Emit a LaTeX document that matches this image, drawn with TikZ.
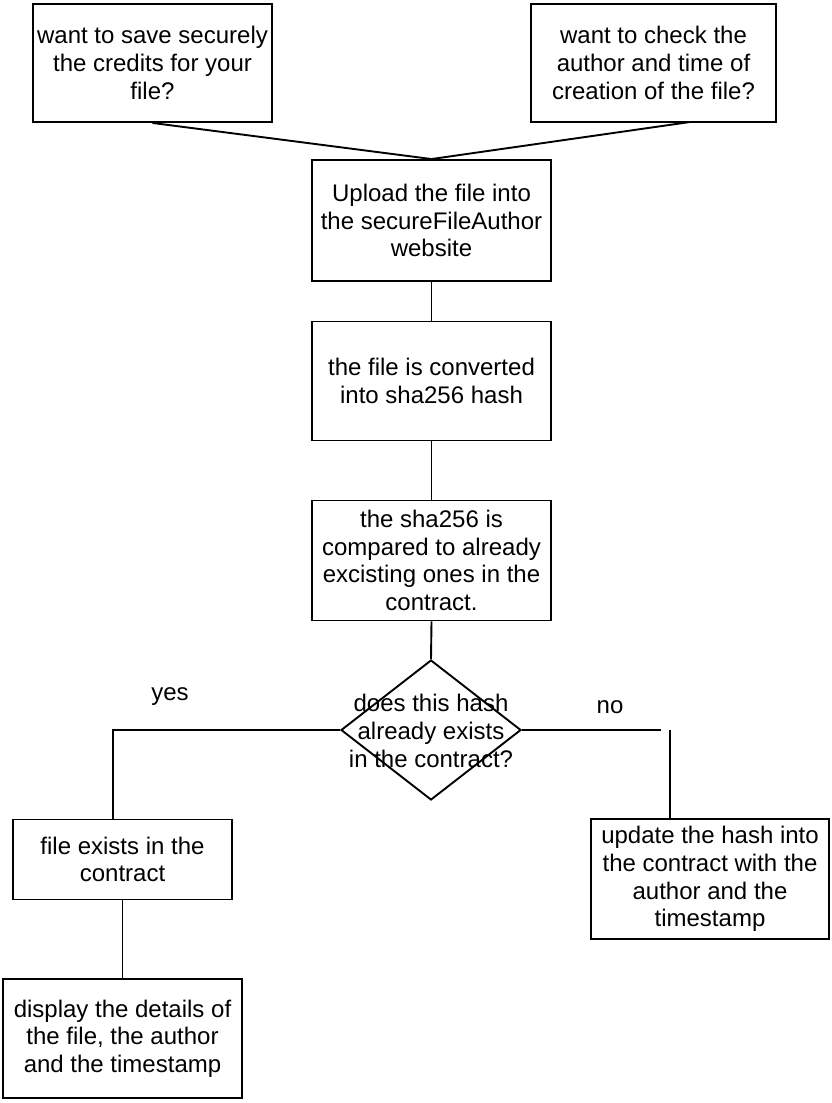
\documentclass[tikz,border=0pt]{standalone}
\usepackage{fontspec}
\setmainfont{Liberation Sans}
\usetikzlibrary{shapes.geometric}
\tikzset{
  txt/.style={font=\fontsize{24}{27.7}\selectfont, align=center, inner sep=0pt},
  box/.style={txt, draw, line width=1.9pt, anchor=center},
  decision/.style={diamond, draw, line width=1.9pt, inner sep=0pt, minimum width=180pt, minimum height=140pt},
  conn/.style={line width=1.9pt},
}
\begin{document}
\begin{tikzpicture}[x=1pt,y=-1pt]
\useasboundingbox (0,0) rectangle (831,1103);
\node[box, minimum width=239pt, minimum height=118pt] (q1) at (152.5,63) {want to save securely\\the credits for your\\file?};
\node[box, minimum width=245pt, minimum height=118pt] (q2) at (653.5,63) {want to check the\\author and time of\\creation of the file?};
\node[box, minimum width=239pt, minimum height=121pt] (up) at (431.5,220.5) {Upload the file into\\the secureFileAuthor\\website};
\node[box, minimum width=239pt, minimum height=119pt] (conv) at (431.5,381) {the file is converted\\into sha256 hash};
\node[box, minimum width=239pt, minimum height=120pt] (cmp) at (431.5,560.5) {the sha256 is\\compared to already\\excisting ones in the\\contract.};
\node[decision] (dec) at (431,730) {};
\node[txt] (dectxt) at (431,731) {does this hash\\already exists\\in the contract?};
\node[box, minimum width=219pt, minimum height=80pt] (ex) at (122.5,859.5) {file exists in the\\contract};
\node[box, minimum width=239pt, minimum height=119pt] (disp) at (122.5,1038.5) {display the details of\\the file, the author\\and the timestamp};
\node[box, minimum width=238pt, minimum height=120pt] (upd) at (710,879) {update the hash into\\the contract with the\\author and the\\timestamp};
\node[txt] (yes) at (170,697) {yes};
\node[txt] (no) at (610,707) {no};
\coordinate (q2b) at (690,122);
\coordinate (yc) at (113,730);
\coordinate (nend) at (661,730);
\coordinate (nv) at (670,730);
\draw[conn] (q1.south) -- (up.north);
\draw[conn] (q2b) -- (up.north);
\draw[conn] (up.south) -- (conv.north);
\draw[conn] (conv.south) -- (cmp.north);
\draw[conn] (cmp.south) -- (dec.north);
\draw[conn] (dec.west) -- (yc) -- (yc |- ex.north);
\draw[conn] (ex.south) -- (disp.north);
\draw[conn] (dec.east) -- (nend);
\draw[conn] (nv) -- (nv |- upd.north);
\end{tikzpicture}
\end{document}
